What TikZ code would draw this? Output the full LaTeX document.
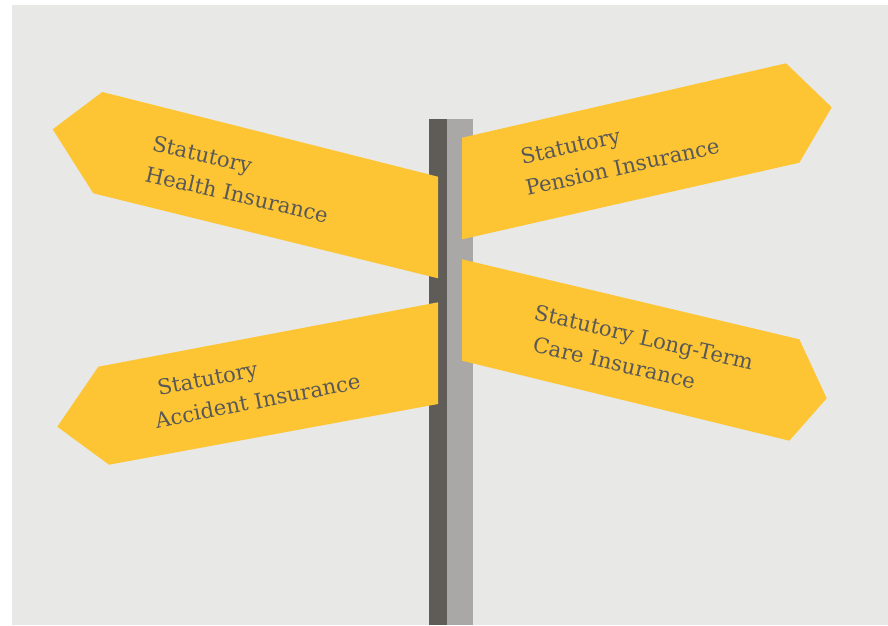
\documentclass[tikz,border=0pt]{standalone}
\usepackage{fontspec}
\setmainfont{DejaVu Serif}
\definecolor{bg}{HTML}{E8E8E6}
\definecolor{signyellow}{HTML}{FDC533}
\definecolor{poledark}{HTML}{5F5B57}
\definecolor{polelight}{HTML}{A9A8A6}
\definecolor{signtext}{HTML}{585858}
\begin{document}
\begin{tikzpicture}[x=1pt,y=1pt,
  sign/.style={fill=signyellow, draw=none},
  signlabel/.style={text=signtext, font=\fontsize{21.2}{31.5}\selectfont, inner sep=0pt, align=left, anchor=base west}]
\useasboundingbox (0,0) rectangle (888,-625);
\fill[bg] (12,-5) rectangle (888,-625);
% pole
\fill[poledark] (429,-119) rectangle (447,-625);
\fill[polelight] (447,-119) rectangle (473,-625);
% signs
\fill[sign] (52.7,-129.3) -- (102.3,-92) -- (438,-176.7) -- (438,-278.3) -- (93.3,-193.3) -- cycle;
\fill[sign] (462,-137.7) -- (786,-63.3) -- (831.7,-107.3) -- (799.3,-162.7) -- (462,-239.3) -- cycle;
\fill[sign] (438,-302.3) -- (438,-404) -- (109,-464.7) -- (57.3,-426.7) -- (98.3,-366.7) -- cycle;
\fill[sign] (462,-259.3) -- (799.3,-339.3) -- (826.7,-398.3) -- (789.3,-440.7) -- (462,-360.7) -- cycle;
% labels (anchored at the baseline of the last line)
\node[signlabel, rotate=-13] (health) at (144,-181) {Statutory\\Health Insurance};
\node[signlabel, rotate=12.5] (pension) at (527.3,-195.7) {\hspace*{2pt}Statutory\\Pension Insurance};
\node[signlabel, rotate=11] (accident) at (156.7,-428.3) {\hspace*{8.5pt}Statutory\\Accident Insurance};
\node[signlabel, rotate=-13] (care) at (531.7,-351.7) {\hspace*{-6pt}Statutory Long-Term\\Care Insurance};
\end{tikzpicture}
\end{document}
